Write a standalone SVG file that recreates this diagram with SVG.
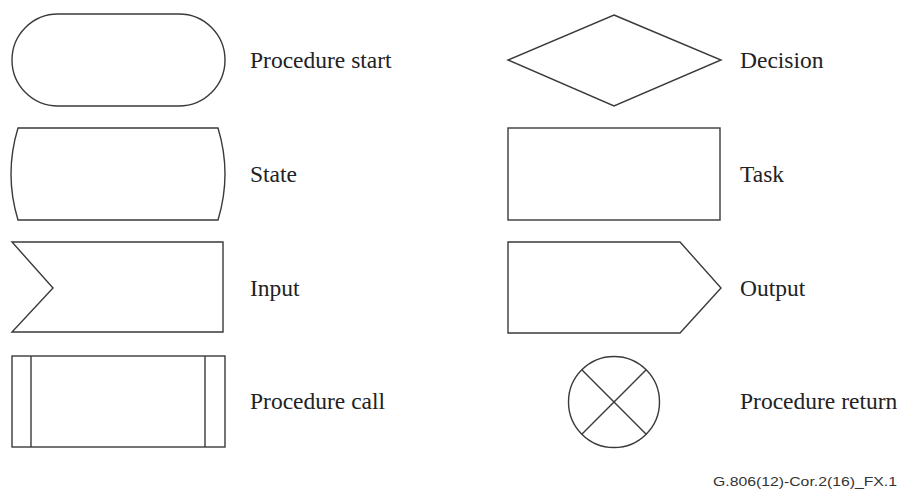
<svg xmlns="http://www.w3.org/2000/svg" width="903" height="493" viewBox="0 0 903 493">
<style>
.s{fill:#fff;stroke:#3a3a3a;stroke-width:1.4}
.l{font-family:"Liberation Serif","Times New Roman",serif;font-size:23.5px;fill:#222}
.f{font-family:"Liberation Sans",Arial,sans-serif;font-size:13.5px;fill:#333}
</style>
<rect width="903" height="493" fill="#fff"/>
<g id="procedure-start"><rect class="s" x="12" y="14" width="213" height="92" rx="46" ry="46"/><text class="l" x="250" y="68">Procedure start</text></g>
<g id="state"><path class="s" d="M18,128 L218,128 Q232,174 218,220 L18,220 Q4,174 18,128 Z"/><text class="l" x="250" y="182">State</text></g>
<g id="input"><path class="s" d="M12,242 L223,242 L223,332 L12,332 L53,288 Z"/><text class="l" x="250" y="296">Input</text></g>
<g id="procedure-call"><rect class="s" x="12" y="356" width="213" height="91"/><line class="s" x1="31" y1="356" x2="31" y2="447"/><line class="s" x1="205" y1="356" x2="205" y2="447"/><text class="l" x="250" y="409">Procedure call</text></g>
<g id="decision"><path class="s" d="M614,15 L721,60 L614,106 L508,60 Z"/><text class="l" x="740" y="68">Decision</text></g>
<g id="task"><rect class="s" x="508" y="128" width="212" height="92"/><text class="l" x="740" y="182">Task</text></g>
<g id="output"><path class="s" d="M508,242 L680,242 L721,288 L680,333 L508,333 Z"/><text class="l" x="740" y="296">Output</text></g>
<g id="procedure-return"><circle class="s" cx="614" cy="402" r="45.5"/><line class="s" x1="581.8" y1="369.8" x2="646.2" y2="434.2"/><line class="s" x1="646.2" y1="369.8" x2="581.8" y2="434.2"/><text class="l" x="740" y="409">Procedure return</text></g>
<g id="connectors"></g>
<text class="f" x="713" y="486" textLength="184" lengthAdjust="spacingAndGlyphs">G.806(12)-Cor.2(16)_FX.1</text>
</svg>
